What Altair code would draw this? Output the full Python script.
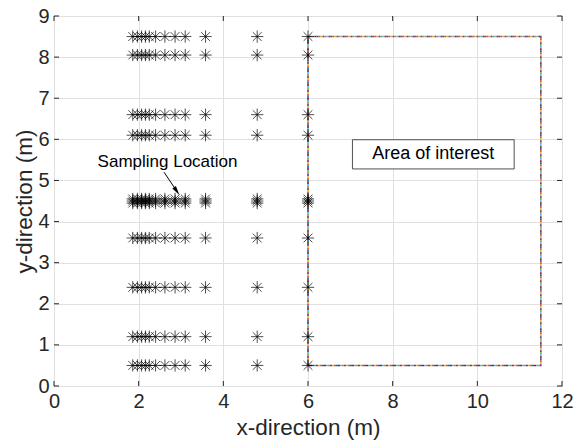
import altair as alt
import pandas as pd

# Sampling grid: x positions of the columns and y positions of the rows (m)
x_positions = [1.86, 1.97, 2.07, 2.16, 2.25, 2.40, 2.62, 2.86, 3.10, 3.58, 4.80, 6.00]
y_rows = [0.50, 1.20, 2.40, 3.60, 4.45, 4.50, 4.55, 6.10, 6.60, 8.05, 8.50]

# Area of interest outline (closed path)
area_x = [6.0, 11.5, 11.5, 6.0, 6.0]
area_y = [0.5, 0.5, 8.5, 8.5, 0.5]

x_ticks = [0, 2, 4, 6, 8, 10, 12]
y_ticks = [0, 1, 2, 3, 4, 5, 6, 7, 8, 9]

# Annotation anchors (data units)
label_pos = (1.03, 5.33)
arrow_tail = (2.60, 5.20)
arrow_head = (2.90, 4.74)
box_x = (7.05, 10.87)
box_y = (5.28, 5.99)

W, H = 508, 370
FONT = "Liberation Sans"
INK = "#262626"
matlab_colors = ["#0072BD", "#D95319", "#EDB120", "#7E2F8E", "#77AC30", "#4DBEEE", "#A2142F"]

pts = pd.DataFrame([(x, y) for y in y_rows for x in x_positions], columns=["x", "y"])
area = pd.DataFrame({"x": area_x, "y": area_y, "o": list(range(len(area_x)))})

xs = alt.Scale(domain=[0, 12], nice=False, zero=False)
ys = alt.Scale(domain=[0, 9], nice=False, zero=False)

common = dict(grid=True, gridColor="#e0e0e0", ticks=False, domain=False, labelFlush=False,
              labelFont=FONT, labelFontSize=20, labelColor=INK, labelPadding=5,
              titleFont=FONT, titleFontSize=22.5, titleFontWeight="normal", titleColor=INK)
x_axis = alt.Axis(values=x_ticks, title="x-direction (m)", titlePadding=5, **common)
y_axis = alt.Axis(values=y_ticks, title="y-direction (m)", titlePadding=1, **common)

base = alt.Chart(pts).mark_point(opacity=0).encode(
    x=alt.X("x:Q", scale=xs, axis=x_axis),
    y=alt.Y("y:Q", scale=ys, axis=y_axis),
)

# Multicoloured dotted outline: interleaved dash segments in the default colour order
n = len(matlab_colors)
area_layers = []
for i, c in enumerate(matlab_colors):
    area_layers.append(
        alt.Chart(area).mark_line(color=c, strokeWidth=1.6, strokeDash=[2, 2 * (n - 1)],
                                  strokeDashOffset=2 * i, strokeCap="butt").encode(
            x=alt.X("x:Q", scale=xs), y=alt.Y("y:Q", scale=ys), order="o:Q")
    )

star_path = "M-1,0L1,0M0,-1L0,1M-0.72,-0.72L0.72,0.72M-0.72,0.72L0.72,-0.72"
stars = alt.Chart(pts).mark_point(shape=star_path, size=150, filled=False, color="black",
                                  strokeWidth=0.7, opacity=1).encode(
    x=alt.X("x:Q", scale=xs), y=alt.Y("y:Q", scale=ys))

box_df = pd.DataFrame({"x": [box_x[0]], "x2": [box_x[1]], "y": [box_y[0]], "y2": [box_y[1]]})
box = alt.Chart(box_df).mark_rect(fill="white", stroke=INK, strokeWidth=0.8).encode(
    x=alt.X("x:Q", scale=xs), x2="x2", y=alt.Y("y:Q", scale=ys), y2="y2")
box_text = alt.Chart(pd.DataFrame({"x": [(box_x[0] + box_x[1]) / 2], "y": [(box_y[0] + box_y[1]) / 2],
                                   "t": ["Area of interest"]})).mark_text(
    font=FONT, fontSize=18, color="black", align="center", baseline="middle").encode(
    x=alt.X("x:Q", scale=xs), y=alt.Y("y:Q", scale=ys), text="t:N")

label = alt.Chart(pd.DataFrame({"x": [label_pos[0]], "y": [label_pos[1]], "t": ["Sampling Location"]})).mark_text(
    font=FONT, fontSize=17, color="black", align="left", baseline="alphabetic").encode(
    x=alt.X("x:Q", scale=xs), y=alt.Y("y:Q", scale=ys), text="t:N")

arrow_df = pd.DataFrame({"x": [arrow_tail[0]], "y": [arrow_tail[1]],
                         "x2": [arrow_head[0]], "y2": [arrow_head[1]]})
arrow_line = alt.Chart(arrow_df).mark_rule(color="black", strokeWidth=1).encode(
    x=alt.X("x:Q", scale=xs), y=alt.Y("y:Q", scale=ys), x2="x2", y2="y2")
arrow_tip = alt.Chart(pd.DataFrame({"x": [arrow_head[0]], "y": [arrow_head[1]]})).mark_point(
    shape="M0,-1L0.45,1L-0.45,1Z", angle=146, size=90, filled=True, color="black", opacity=1).encode(
    x=alt.X("x:Q", scale=xs), y=alt.Y("y:Q", scale=ys))

# Inward tick marks on all four sides of the box
xt = pd.DataFrame({"v": x_ticks})
yt = pd.DataFrame({"v": y_ticks})
TL = 5
ticks = [
    alt.Chart(xt).mark_rule(color=INK, strokeWidth=1).encode(
        x=alt.X("v:Q", scale=xs), y=alt.value(H), y2=alt.value(H - TL)),
    alt.Chart(xt).mark_rule(color=INK, strokeWidth=1).encode(
        x=alt.X("v:Q", scale=xs), y=alt.value(0), y2=alt.value(TL)),
    alt.Chart(yt).mark_rule(color=INK, strokeWidth=1).encode(
        y=alt.Y("v:Q", scale=ys), x=alt.value(0), x2=alt.value(TL)),
    alt.Chart(yt).mark_rule(color=INK, strokeWidth=1).encode(
        y=alt.Y("v:Q", scale=ys), x=alt.value(W), x2=alt.value(W - TL)),
]

chart = alt.layer(base, *area_layers, stars, box, box_text, label, arrow_line, arrow_tip, *ticks).properties(
    width=W, height=H,
    autosize=alt.AutoSizeParams(type="none"),
    padding={"left": 54, "top": 16, "right": 12, "bottom": 57},
    background="white",
).configure_view(stroke=INK, strokeWidth=1)

chart.save("out.html", embed_options={"renderer": "svg", "actions": False})
